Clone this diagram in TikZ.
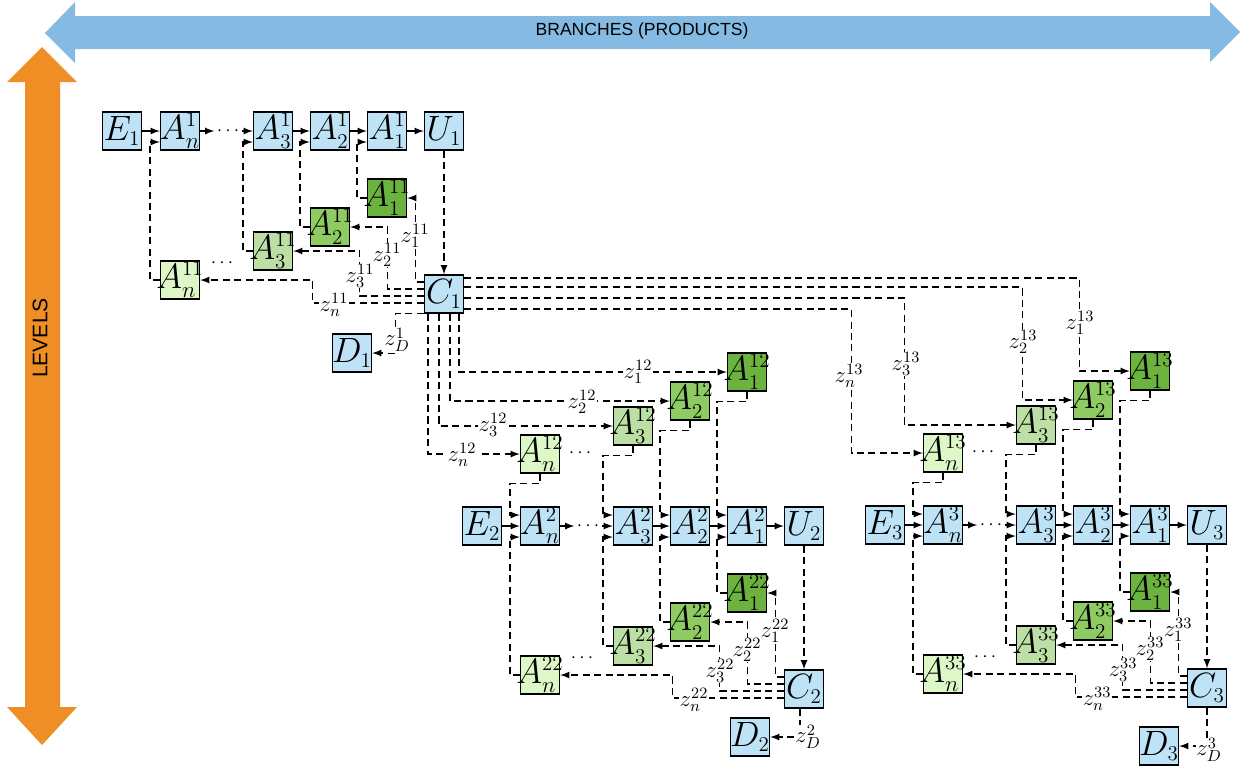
\documentclass[tikz,border=0pt]{standalone}
\usepackage{fontspec}
\newfontfamily\arialfont{Liberation Sans}
\usepackage{tikz}
\DeclareFontShape{OML}{cmm}{m}{it}{<-5.5>cmmi5<5.5-6.5>cmmi6<6.5-7.5>cmmi7<7.5-8.5>cmmi8<8.5-9.5>cmmi9<9.5-11>cmmi10<11->cmmi12}{}
\DeclareMathSizes{20}{20}{13}{10}
\definecolor{boxblue}{HTML}{BFE3F6}
\definecolor{gOne}{HTML}{6CB23E}
\definecolor{gTwo}{HTML}{8ECB62}
\definecolor{gThree}{HTML}{BCDFA6}
\definecolor{gFour}{HTML}{DDF7C6}
\definecolor{arrowblue}{HTML}{85BBE3}
\definecolor{arroworange}{HTML}{EE8E24}
\tikzset{
	blk/.style={draw, line width=0.8pt, fill=boxblue, minimum width=0.78cm, minimum height=0.76cm, inner sep=0pt, font=\fontsize{20}{20}\selectfont,
		execute at begin node={\hbox to 0pt\bgroup\hss}, execute at end node={\hss\egroup}},
	dline/.style={dash pattern=on 4pt off 2.5pt},
	lbl/.style={fill=white, inner sep=0.3pt, font=\fontsize{13}{13}\selectfont},
	dts/.style={inner sep=1pt, font=\fontsize{11}{11}\selectfont}
}

\begin{document}
\begin{tikzpicture}[x=0.02cm, y=-0.02cm, >=latex, line width=0.8pt]
	\useasboundingbox (0,0) rectangle (1243,772);
	% big arrows
	\fill[arrowblue] (45,33) -- (75,2) -- (75,16) -- (1210,16) -- (1210,2) -- (1240,32) -- (1210,62) -- (1210,49) -- (75,49) -- (75,63) -- cycle;
	\node[font=\arialfont\fontsize{10}{12}\selectfont] (branches) at (642,31) {BRANCHES (PRODUCTS)};
	\fill[arroworange] (42,47) -- (77,82) -- (60,82) -- (60,707) -- (77,707) -- (42,745) -- (7,707) -- (25,707) -- (25,82) -- (7,82) -- cycle;
	\node[rotate=90, font=\arialfont\fontsize{12}{14}\selectfont] (levels) at (40,338) {LEVELS};
	
	\foreach \b/\ex/\ey in {1/122/131, 2/482/526, 3/885/525}
	{
		\node[blk] (E\b) at (\ex,\ey) {$E_\b$};
		\node[blk] (A\b-n) at (\ex+58,\ey) {$A_n^\b$};
		\node[dts] (r\b) at (\ex+106,\ey) {$\cdots$};
		\node[blk] (A\b-3) at (\ex+151,\ey) {$A_3^\b$};
		\node[blk] (A\b-2) at (\ex+208,\ey) {$A_2^\b$};
		\node[blk] (A\b-1) at (\ex+265,\ey) {$A_1^\b$};
		\node[blk] (U\b) at (\ex+322,\ey) {$U_\b$};
		\node[blk, fill=gOne] (G\b-1) at (\ex+265,\ey+67) {$A_1^{\b\b}$};
		\node[blk, fill=gTwo] (G\b-2) at (\ex+208,\ey+96) {$A_2^{\b\b}$};
		\node[blk, fill=gThree] (G\b-3) at (\ex+151,\ey+120) {$A_3^{\b\b}$};
		\node[blk, fill=gFour] (G\b-n) at (\ex+58,\ey+149) {$A_n^{\b\b}$};
		\node[dts] (g\b) at (\ex+100,\ey+132) {$\cdots$};
		\node[blk] (C\b) at (\ex+322,\ey+163) {$C_\b$};
		
		\draw[->] (E\b) -- (A\b-n);
		\draw[->] (A\b-n) -- (r\b);
		\draw[->] (r\b) -- (A\b-3);
		\draw[->] (A\b-3) -- (A\b-2);
		\draw[->] (A\b-2) -- (A\b-1);
		\draw[->] (A\b-1) -- (U\b);
		\draw[dline,->] (U\b) -- (C\b);
		\foreach \k in {1,2,3,n}
			\draw[dline,->] (G\b-\k.west) -| ([xshift=-0.2cm,yshift=-0.22cm]A\b-\k.west) -- ([yshift=-0.22cm]A\b-\k.west);
		\foreach \k/\dy/\dx in {1/0.24/0.17, 2/0.10/0.75, 3/-0.04/1.33, n/-0.18/2.25}
			\draw[dline,->] ([yshift=\dy cm]C\b.west) -| ([xshift=\dx cm]G\b-\k.east) -- (G\b-\k.east);
		\foreach \k/\lx/\ly in {1/293/105, 2/265/124, 3/238/145, n/212/174}
			\node[lbl] (z\b-\k) at (\ex+\lx,\ey+\ly) {$z_\k^{\b\b}$};
	}
	
	% copies from C1 for branches 2 and 3
	\foreach \b/\ex/\ey in {2/482/526, 3/885/525}
	{
		\node[blk, fill=gOne] (H\b-1) at (\ex+265,\ey-154) {$A_1^{1\b}$};
		\node[blk, fill=gTwo] (H\b-2) at (\ex+208,\ey-125) {$A_2^{1\b}$};
		\node[blk, fill=gThree] (H\b-3) at (\ex+151,\ey-100) {$A_3^{1\b}$};
		\node[blk, fill=gFour] (H\b-n) at (\ex+58,\ey-72) {$A_n^{1\b}$};
		\node[dts] (h\b) at (\ex+98,\ey-73) {$\cdots$};
		\foreach \k in {1,2,3,n}
			\draw[dline,->] (H\b-\k.south) -- ++(0,10) -| ([xshift=-0.2cm,yshift=0.22cm]A\b-\k.west) -- ([yshift=0.22cm]A\b-\k.west);
	}
	
	\draw[dline,->] ([xshift=0.30cm]C1.south) |- (H2-1.west);
	\draw[dline,->] ([xshift=0.12cm]C1.south) |- (H2-2.west);
	\draw[dline,->] ([xshift=-0.10cm]C1.south) |- (H2-3.west);
	\draw[dline,->] ([xshift=-0.32cm]C1.south) |- (H2-n.west);
	\node[lbl] (y2-1) at (638,372) {$z_1^{12}$};
	\node[lbl] (y2-2) at (582,402) {$z_2^{12}$};
	\node[lbl] (y2-3) at (493,425) {$z_3^{12}$};
	\node[lbl] (y2-n) at (462,455) {$z_n^{12}$};
	
	\draw[dline,->] ([yshift=0.32cm]C1.east) -| ([xshift=-1.01cm]H3-1.west) -- (H3-1.west);
	\draw[dline,->] ([yshift=0.14cm]C1.east) -| ([xshift=-1.01cm]H3-2.west) -- (H3-2.west);
	\draw[dline,->] ([yshift=-0.08cm]C1.east) -| ([xshift=-2.23cm]H3-3.west) -- (H3-3.west);
	\draw[dline,->] ([yshift=-0.30cm]C1.east) -| ([xshift=-1.43cm]H3-n.west) -- (H3-n.west);
	\node[lbl] (y3-1) at (1080,323) {$z_1^{13}$};
	\node[lbl] (y3-2) at (1023,342) {$z_2^{13}$};
	\node[lbl] (y3-3) at (906,364) {$z_3^{13}$};
	\node[lbl] (y3-n) at (849,376) {$z_n^{13}$};
	
	% discarded
	\node[blk] (D1) at (352,353) {$D_1$};
	\node[blk] (D2) at (750,737) {$D_2$};
	\node[blk] (D3) at (1159,746) {$D_3$};
	\draw[dline,->] (C1.south west) -| ([xshift=0.47cm]D1.east) -- (D1.east);
	\draw[dline,->] ([xshift=-0.08cm]C2.south) |- (D2.east);
	\draw[dline,->] (C3.south) |- (D3.east);
	\node[lbl] (zD1) at (397,340) {$z_D^1$};
	\node[lbl] (zD2) at (808,737) {$z_D^2$};
	\node[lbl] (zD3) at (1209,750) {$z_D^3$};
\end{tikzpicture}
\end{document}
